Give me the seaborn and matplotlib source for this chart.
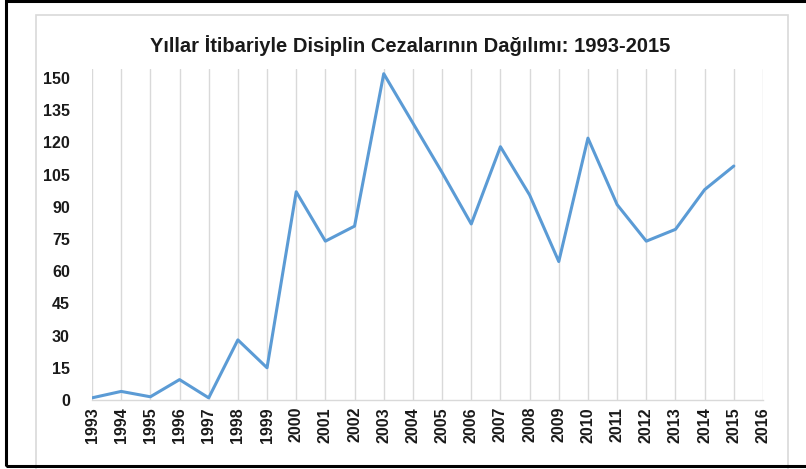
import numpy as np
import pandas as pd
import matplotlib
matplotlib.use('Agg')
import matplotlib.pyplot as plt
import seaborn as sns
from matplotlib.patches import Rectangle

# data
years = list(range(1993, 2016))
penalties = [1, 4, 1.5, 9.5, 1, 28, 15, 97, 74, 81, 152, 129, 106, 82, 118, 95.5,
             64.5, 122, 91, 74, 79.5, 98, 109]
x_ticks = list(range(1993, 2017))
y_ticks = list(range(0, 151, 15))
title = 'Yıllar İtibariyle Disiplin Cezalarının Dağılımı: 1993-2015'

df = pd.DataFrame({'yil': years, 'ceza': penalties})

sns.set_style('white')
plt.rcParams['font.family'] = ['Liberation Sans', 'DejaVu Sans']

W, H = 806, 469
fig = plt.figure(figsize=(W / 100, H / 100), dpi=100)

# chart area frame (light gray) and outer black frame (right side cut off)
fig.patches.append(Rectangle((36 / W, 1 - 480 / H), (788 - 36) / W, (480 - 15) / H,
                             transform=fig.transFigure, fill=False,
                             edgecolor='#d9d9d9', linewidth=1.2, zorder=0))
fig.patches.append(Rectangle((5.5 / W, 1 - 465.5 / H), (830 - 5.5) / W, (465.5 - 1.5) / H,
                             transform=fig.transFigure, fill=False,
                             edgecolor='black', linewidth=2.2, zorder=1))

ax = fig.add_axes([92 / W, 1 - 400 / H, (763 - 92) / W, (400 - 69) / H])
sns.lineplot(data=df, x='yil', y='ceza', ax=ax, color='#5b9bd5', linewidth=2.2)

ax.set_xlim(1993, 2016)
ax.set_ylim(0, 154.2)
ax.set_xticks(x_ticks)
ax.set_xticklabels([str(y) for y in x_ticks], rotation=90, fontweight='bold', fontsize=11.5)
ax.set_yticks(y_ticks)
ax.set_yticklabels([str(v) for v in y_ticks], fontweight='bold', fontsize=11.5)
ax.tick_params(axis='both', length=0, colors='#1a1a1a')
ax.tick_params(axis='y', pad=16)
ax.tick_params(axis='x', pad=5)
ax.set_xlabel('')
ax.set_ylabel('')

ax.grid(axis='x', color='#d9d9d9', linewidth=1)
ax.grid(axis='y', visible=False)
for s in ['top', 'right', 'left']:
    ax.spines[s].set_visible(False)
ax.spines['bottom'].set_color('#d9d9d9')
ax.spines['bottom'].set_linewidth(1)

fig.text(410 / W, 1 - 46 / H, title, ha='center', va='center',
         fontsize=14.5, fontweight='bold', color='#1a1a1a')

fig.savefig('out.png', dpi=100)
